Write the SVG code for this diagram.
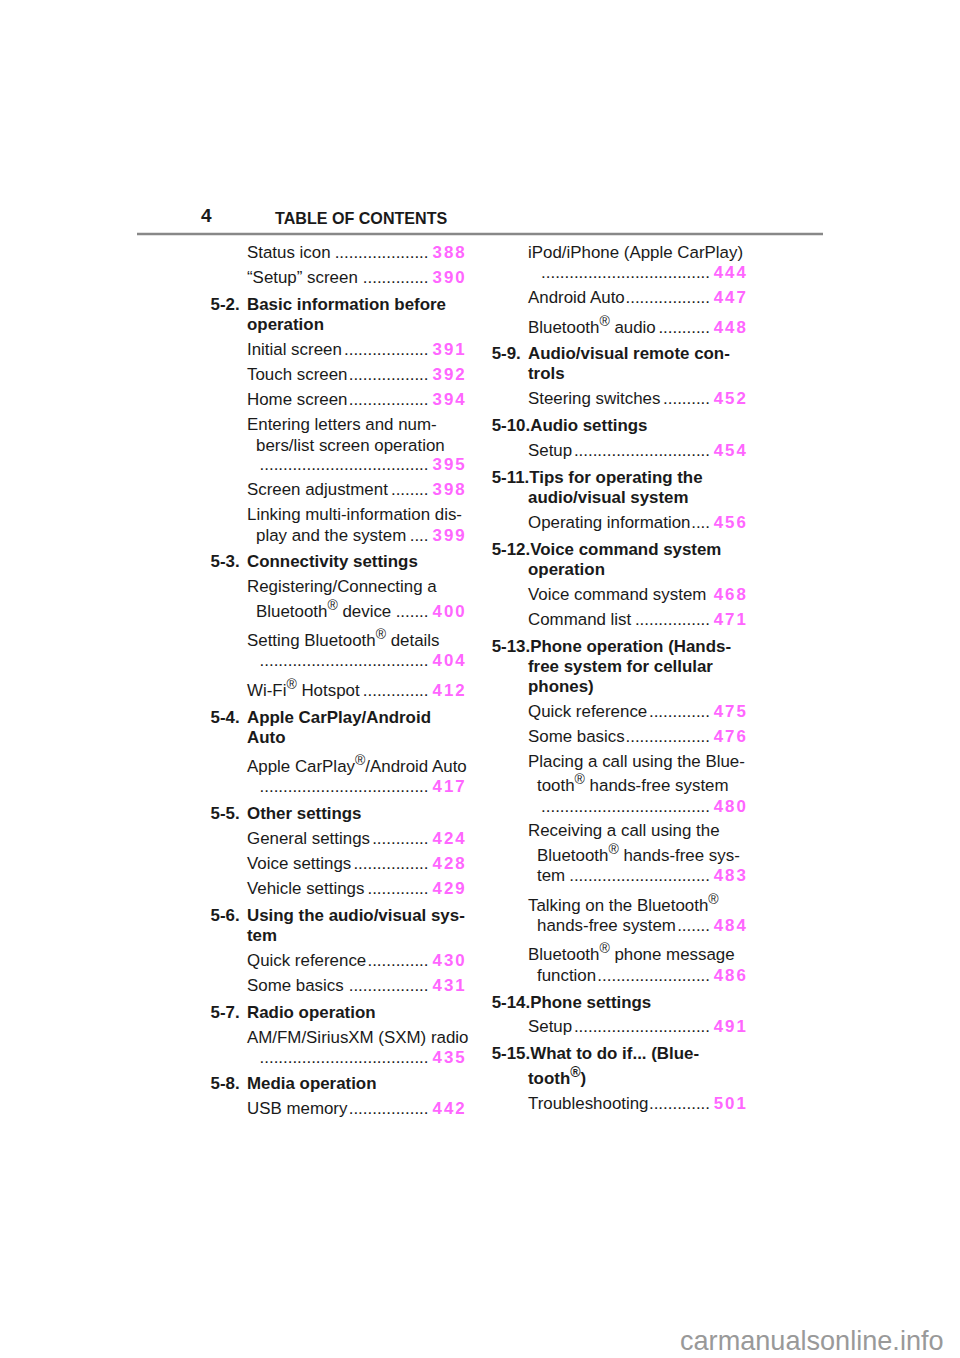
<svg xmlns="http://www.w3.org/2000/svg" width="960" height="1358" viewBox="0 0 960 1358">
<style>
text{font-family:"Liberation Sans",Arial,sans-serif;fill:#1a1a1a;font-size:16.9px}
.b{font-weight:700}
.d{text-anchor:end}
.n{font-weight:700;fill:#ff66ff;letter-spacing:1.9px}
.s{font-size:14px}
.w{fill:#999;font-size:27.1px}
</style>
<rect width="960" height="1358" fill="#fff"/>
<g id="header">
<text class="b" x="201" y="222" style="font-size:19px">4</text>
<text class="b" x="275" y="224" style="font-size:16.1px">TABLE OF CONTENTS</text>
<line x1="137" y1="234" x2="823" y2="234" stroke="#888" stroke-width="2.4"/>
</g>
<g id="left-column">
<text x="247" y="258">Status icon</text><text class="d" x="428.5" y="258">....................</text><text class="n" x="432.6" y="258">388</text>
<text x="247" y="283">“Setup” screen</text><text class="d" x="428.5" y="283">..............</text><text class="n" x="432.6" y="283">390</text>
<text class="b" x="210.5" y="310">5-2.</text><text class="b" x="247" y="310">Basic information before</text>
<text class="b" x="247" y="330">operation</text>
<text x="247" y="355">Initial screen</text><text class="d" x="428.5" y="355">..................</text><text class="n" x="432.6" y="355">391</text>
<text x="247" y="380">Touch screen</text><text class="d" x="428.5" y="380">.................</text><text class="n" x="432.6" y="380">392</text>
<text x="247" y="405">Home screen</text><text class="d" x="428.5" y="405">.................</text><text class="n" x="432.6" y="405">394</text>
<text x="247" y="430">Entering letters and num-</text>
<text x="256" y="451">bers/list screen operation</text>
<text class="d" x="428.5" y="470">....................................</text><text class="n" x="432.6" y="470">395</text>
<text x="247" y="495">Screen adjustment</text><text class="d" x="428.5" y="495">........</text><text class="n" x="432.6" y="495">398</text>
<text x="247" y="520">Linking multi-information dis-</text>
<text x="256" y="541">play and the system</text><text class="d" x="428.5" y="541">....</text><text class="n" x="432.6" y="540.5">399</text>
<text class="b" x="210.5" y="567">5-3.</text><text class="b" x="247" y="567">Connectivity settings</text>
<text x="247" y="592">Registering/Connecting a</text>
<text x="256" y="617">Bluetooth<tspan class="s" dy="-7">®</tspan><tspan dy="7"> device</tspan></text><text class="d" x="428.5" y="617">.......</text><text class="n" x="432.6" y="617">400</text>
<text x="247" y="646">Setting Bluetooth<tspan class="s" dy="-7">®</tspan><tspan dy="7"> details</tspan></text>
<text class="d" x="428.5" y="666">....................................</text><text class="n" x="432.6" y="666">404</text>
<text x="247" y="696">Wi-Fi<tspan class="s" dy="-7">®</tspan><tspan dy="7"> Hotspot</tspan></text><text class="d" x="428.5" y="696">..............</text><text class="n" x="432.6" y="696">412</text>
<text class="b" x="210.5" y="723">5-4.</text><text class="b" x="247" y="723">Apple CarPlay/Android</text>
<text class="b" x="247" y="743">Auto</text>
<text x="247" y="772">Apple CarPlay<tspan class="s" dy="-7">®</tspan><tspan dy="7">/Android Auto</tspan></text>
<text class="d" x="428.5" y="792">....................................</text><text class="n" x="432.6" y="792">417</text>
<text class="b" x="210.5" y="819">5-5.</text><text class="b" x="247" y="819">Other settings</text>
<text x="247" y="844">General settings</text><text class="d" x="428.5" y="844">............</text><text class="n" x="432.6" y="844">424</text>
<text x="247" y="869">Voice settings</text><text class="d" x="428.5" y="869">................</text><text class="n" x="432.6" y="869">428</text>
<text x="247" y="894">Vehicle settings</text><text class="d" x="428.5" y="894">.............</text><text class="n" x="432.6" y="894">429</text>
<text class="b" x="210.5" y="921">5-6.</text><text class="b" x="247" y="921">Using the audio/visual sys-</text>
<text class="b" x="247" y="941">tem</text>
<text x="247" y="966">Quick reference</text><text class="d" x="428.5" y="966">.............</text><text class="n" x="432.6" y="966">430</text>
<text x="247" y="991">Some basics</text><text class="d" x="428.5" y="991">.................</text><text class="n" x="432.6" y="991">431</text>
<text class="b" x="210.5" y="1018">5-7.</text><text class="b" x="247" y="1018">Radio operation</text>
<text x="247" y="1043">AM/FM/SiriusXM (SXM) radio</text>
<text class="d" x="428.5" y="1063">....................................</text><text class="n" x="432.6" y="1063">435</text>
<text class="b" x="210.5" y="1089">5-8.</text><text class="b" x="247" y="1089">Media operation</text>
<text x="247" y="1114">USB memory</text><text class="d" x="428.5" y="1114">.................</text><text class="n" x="432.6" y="1114">442</text>
</g>
<g id="right-column">
<text x="528" y="258">iPod/iPhone (Apple CarPlay)</text>
<text class="d" x="710" y="278">....................................</text><text class="n" x="713.8" y="278">444</text>
<text x="528" y="303">Android Auto</text><text class="d" x="710" y="303">..................</text><text class="n" x="713.8" y="303">447</text>
<text x="528" y="333">Bluetooth<tspan class="s" dy="-7">®</tspan><tspan dy="7"> audio</tspan></text><text class="d" x="710" y="333">...........</text><text class="n" x="713.8" y="333">448</text>
<text class="b" x="491.7" y="359">5-9.</text><text class="b" x="528" y="359">Audio/visual remote con-</text>
<text class="b" x="528" y="379">trols</text>
<text x="528" y="404">Steering switches</text><text class="d" x="710" y="404">..........</text><text class="n" x="713.8" y="404">452</text>
<text class="b" x="491.7" y="431">5-10.Audio settings</text>
<text x="528" y="456">Setup</text><text class="d" x="710" y="456">.............................</text><text class="n" x="713.8" y="456">454</text>
<text class="b" x="491.7" y="483">5-11.Tips for operating the</text>
<text class="b" x="528" y="503">audio/visual system</text>
<text x="528" y="528">Operating information</text><text class="d" x="710" y="528">....</text><text class="n" x="713.8" y="528">456</text>
<text class="b" x="491.7" y="555">5-12.Voice command system</text>
<text class="b" x="528" y="575">operation</text>
<text x="528" y="600">Voice command system</text><text class="n" x="713.8" y="600">468</text>
<text x="528" y="625">Command list</text><text class="d" x="710" y="625">................</text><text class="n" x="713.8" y="625">471</text>
<text class="b" x="491.7" y="652">5-13.Phone operation (Hands-</text>
<text class="b" x="528" y="672">free system for cellular</text>
<text class="b" x="528" y="692">phones)</text>
<text x="528" y="717">Quick reference</text><text class="d" x="710" y="717">.............</text><text class="n" x="713.8" y="717">475</text>
<text x="528" y="742">Some basics</text><text class="d" x="710" y="742">..................</text><text class="n" x="713.8" y="742">476</text>
<text x="528" y="767">Placing a call using the Blue-</text>
<text x="537" y="791">tooth<tspan class="s" dy="-7">®</tspan><tspan dy="7"> hands-free system</tspan></text>
<text class="d" x="710" y="812">....................................</text><text class="n" x="713.8" y="812">480</text>
<text x="528" y="836">Receiving a call using the</text>
<text x="537" y="861">Bluetooth<tspan class="s" dy="-7">®</tspan><tspan dy="7"> hands-free sys-</tspan></text>
<text x="537" y="881">tem</text><text class="d" x="710" y="881">..............................</text><text class="n" x="713.8" y="881">483</text>
<text x="528" y="911">Talking on the Bluetooth<tspan class="s" dy="-7">®</tspan></text>
<text x="537" y="931">hands-free system</text><text class="d" x="710" y="931">.......</text><text class="n" x="713.8" y="931">484</text>
<text x="528" y="960">Bluetooth<tspan class="s" dy="-7">®</tspan><tspan dy="7"> phone message</tspan></text>
<text x="537" y="981">function</text><text class="d" x="710" y="981">........................</text><text class="n" x="713.8" y="981">486</text>
<text class="b" x="491.7" y="1008">5-14.Phone settings</text>
<text x="528" y="1032">Setup</text><text class="d" x="710" y="1032">.............................</text><text class="n" x="713.8" y="1032">491</text>
<text class="b" x="491.7" y="1059">5-15.What to do if... (Blue-</text>
<text class="b" x="528" y="1084">tooth<tspan class="s" dy="-7">®</tspan><tspan dy="7">)</tspan></text>
<text x="528" y="1108.5">Troubleshooting</text><text class="d" x="710" y="1108.5">.............</text><text class="n" x="713.8" y="1108.5">501</text>
</g>
<text class="w" x="680" y="1350">carmanualsonline.info</text>
</svg>
